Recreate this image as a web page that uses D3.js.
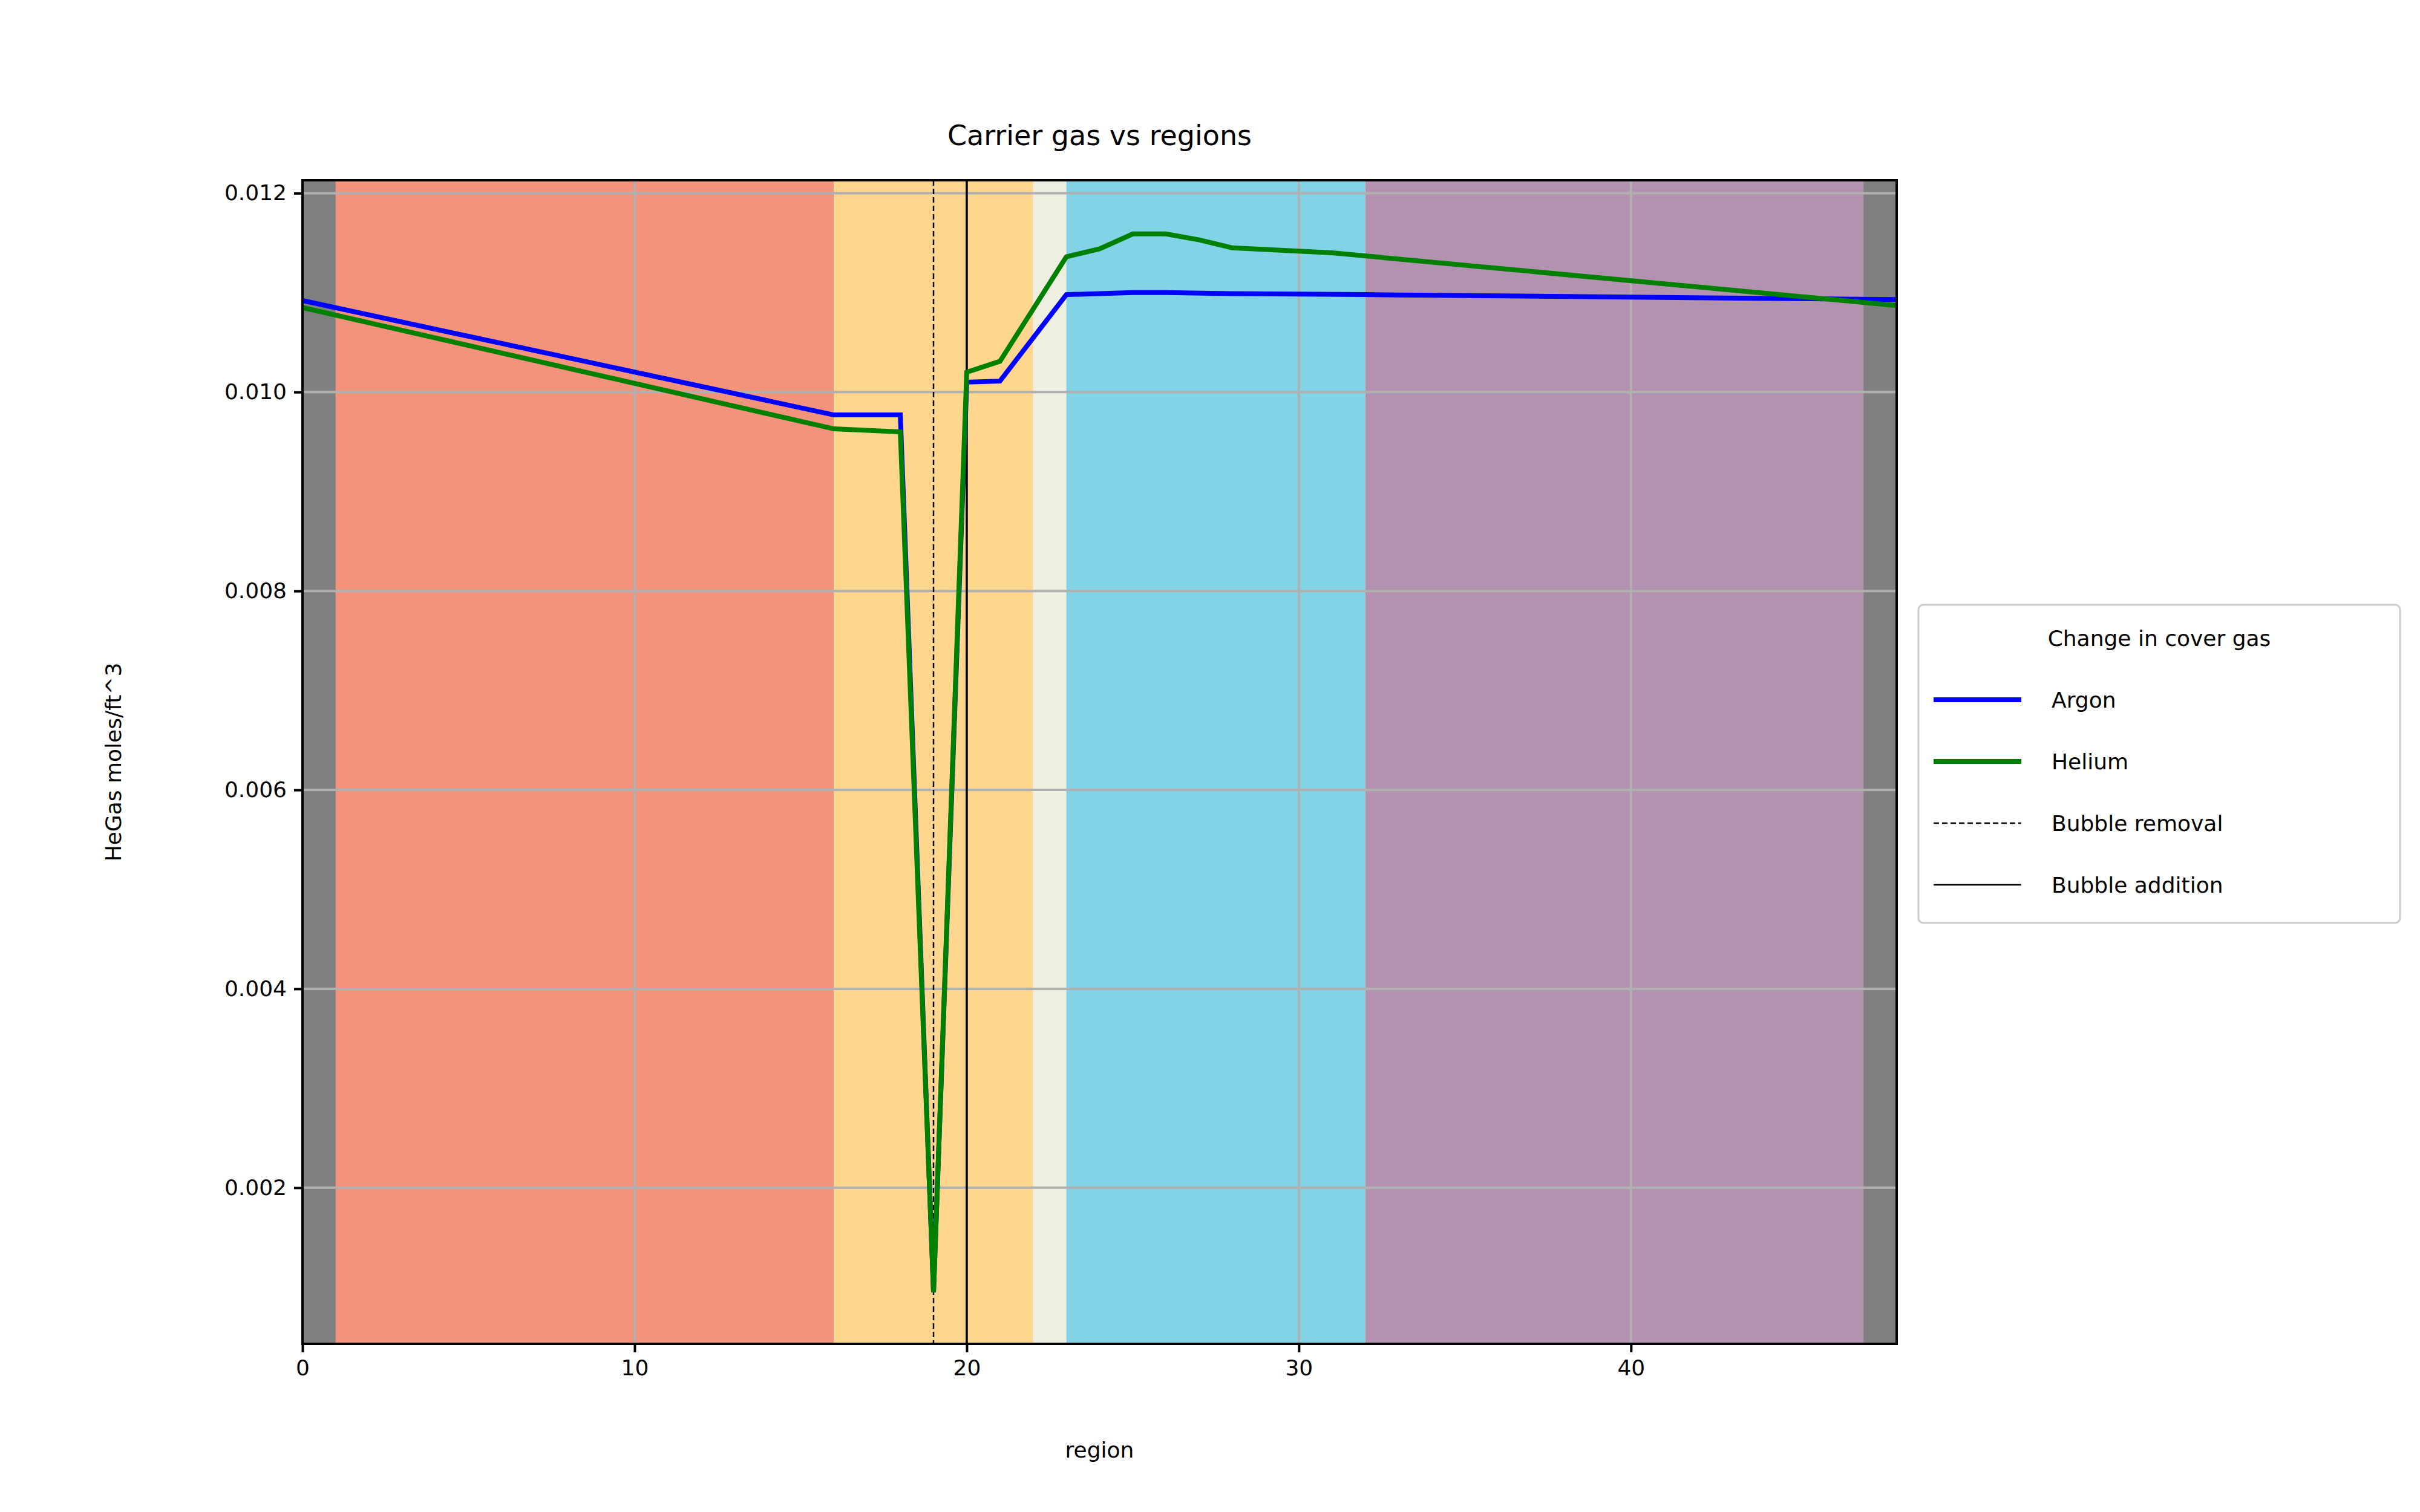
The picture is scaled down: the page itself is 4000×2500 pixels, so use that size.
<!DOCTYPE html>
<html>
<head>
<meta charset="utf-8">
<script src="https://cdn.jsdelivr.net/npm/d3@7"></script>
<style>
body { margin: 0; background: #fff; }
text { font-family: "DejaVu Sans", sans-serif; }
</style>
</head>
<body>
<div id="chart"></div>
<script>
var width = 4000, height = 2500;
var margin = {left: 500, right: 865, top: 298, bottom: 278};

// data
var argonX = [0, 16, 18, 19, 20, 21, 23, 25, 26, 28, 32, 48];
var argonY = [0.01092, 0.00977, 0.00977, 0.00095, 0.01010, 0.01011, 0.01098, 0.01100, 0.01100, 0.01099, 0.01098, 0.01093];
var heliumX = [0, 16, 18, 19, 20, 21, 23, 24, 25, 26, 27, 28, 31, 48];
var heliumY = [0.01085, 0.00963, 0.00960, 0.00095, 0.01020, 0.01031, 0.01136, 0.01144, 0.01159, 0.01159, 0.01153, 0.01145, 0.01140, 0.01087];
var bandStart = [0, 1, 16, 22, 23, 32, 47];
var bandEnd = [1, 16, 22, 23, 32, 47, 48];
var bandColor = ["#7f7f7f", "#f4937c", "#fed68e", "#eeeee1", "#82d3e5", "#b392af", "#7f7f7f"];
var bubbleRemoval = 19, bubbleAddition = 20;
var xTicks = [0, 10, 20, 30, 40];
var yTicks = [0.002, 0.004, 0.006, 0.008, 0.010, 0.012];

var svg = d3.select("#chart").append("svg").attr("width", width).attr("height", height);
var iw = width - margin.left - margin.right, ih = height - margin.top - margin.bottom;
var g = svg.append("g").attr("transform", "translate(" + margin.left + "," + margin.top + ")");

var x = d3.scaleLinear().domain([0, 48]).range([0, iw]);
var y = d3.scaleLinear().domain([0.00043, 0.01213]).range([ih, 0]);

g.selectAll(".band").data(bandStart).enter().append("rect")
    .attr("x", function(d) { return x(d); })
    .attr("width", function(d, i) { return x(bandEnd[i]) - x(d); })
    .attr("y", 0).attr("height", ih)
    .attr("fill", function(d, i) { return bandColor[i]; });

// grid
g.selectAll(".gx").data(xTicks).enter().append("line")
    .attr("x1", function(d) { return x(d); }).attr("x2", function(d) { return x(d); })
    .attr("y1", 0).attr("y2", ih).style("stroke", "#b0b0b0").style("stroke-width", 4);
g.selectAll(".gy").data(yTicks).enter().append("line")
    .attr("y1", function(d) { return y(d); }).attr("y2", function(d) { return y(d); })
    .attr("x1", 0).attr("x2", iw).style("stroke", "#b0b0b0").style("stroke-width", 4);

// bubble lines
g.append("line").attr("x1", x(bubbleRemoval)).attr("x2", x(bubbleRemoval)).attr("y1", 0).attr("y2", ih)
    .style("stroke", "#000").style("stroke-width", 2.5).style("stroke-dasharray", "9,5");
g.append("line").attr("x1", x(bubbleAddition)).attr("x2", x(bubbleAddition)).attr("y1", 0).attr("y2", ih)
    .style("stroke", "#000").style("stroke-width", 3.5);

var line = d3.line().x(function(d) { return x(d[0]); }).y(function(d) { return y(d[1]); });
g.append("path").datum(d3.zip(argonX, argonY)).attr("d", line)
    .attr("fill", "none").style("stroke", "#0000ff").style("stroke-width", 8);
g.append("path").datum(d3.zip(heliumX, heliumY)).attr("d", line)
    .attr("fill", "none").style("stroke", "#008000").style("stroke-width", 8);

g.append("rect").attr("width", iw).attr("height", ih).attr("fill", "none")
    .style("stroke", "#000").style("stroke-width", 4);

// axes
var xa = g.append("g").attr("transform", "translate(0," + ih + ")")
    .call(d3.axisBottom(x).tickValues(xTicks).tickSize(14).tickPadding(12));
var ya = g.append("g").call(d3.axisLeft(y).tickValues(yTicks).tickFormat(d3.format(".3f")).tickSize(14).tickPadding(12));
[xa, ya].forEach(function(a) {
    a.select(".domain").remove();
    a.selectAll("line").style("stroke", "#000").style("stroke-width", 4);
    a.selectAll("text").style("font-size", "36px").style("font-family", "DejaVu Sans").attr("fill", "#000");
});

svg.append("text").attr("x", margin.left + iw / 2).attr("y", 240).attr("text-anchor", "middle")
    .style("font-size", "46px").text("Carrier gas vs regions");
svg.append("text").attr("x", margin.left + iw / 2).attr("y", 2410).attr("text-anchor", "middle")
    .style("font-size", "36px").text("region");
svg.append("text").attr("transform", "translate(200," + (margin.top + ih / 2) + ") rotate(-90)")
    .attr("text-anchor", "middle").style("font-size", "36px").text("HeGas moles/ft^3");

// legend
var lg = svg.append("g").attr("transform", "translate(3171,1000)");
lg.append("rect").attr("width", 796).attr("height", 526).attr("rx", 8)
    .attr("fill", "#fff").style("stroke", "#ccc").style("stroke-width", 3);
lg.append("text").attr("x", 398).attr("y", 68).attr("text-anchor", "middle")
    .style("font-size", "36px").text("Change in cover gas");
var legNames = ["Argon", "Helium", "Bubble removal", "Bubble addition"];
var legColors = ["#0000ff", "#008000", "#000", "#000"];
var legWidths = [8, 8, 2.5, 2.5];
var legDash = ["none", "none", "9,5", "none"];
legNames.forEach(function(n, i) {
    var yy = 157 + i * 102;
    lg.append("line").attr("x1", 25).attr("x2", 170).attr("y1", yy).attr("y2", yy)
        .style("stroke", legColors[i]).style("stroke-width", legWidths[i]).style("stroke-dasharray", legDash[i]);
    lg.append("text").attr("x", 220).attr("y", yy + 13).style("font-size", "36px").text(n);
});
</script>
</body>
</html>
